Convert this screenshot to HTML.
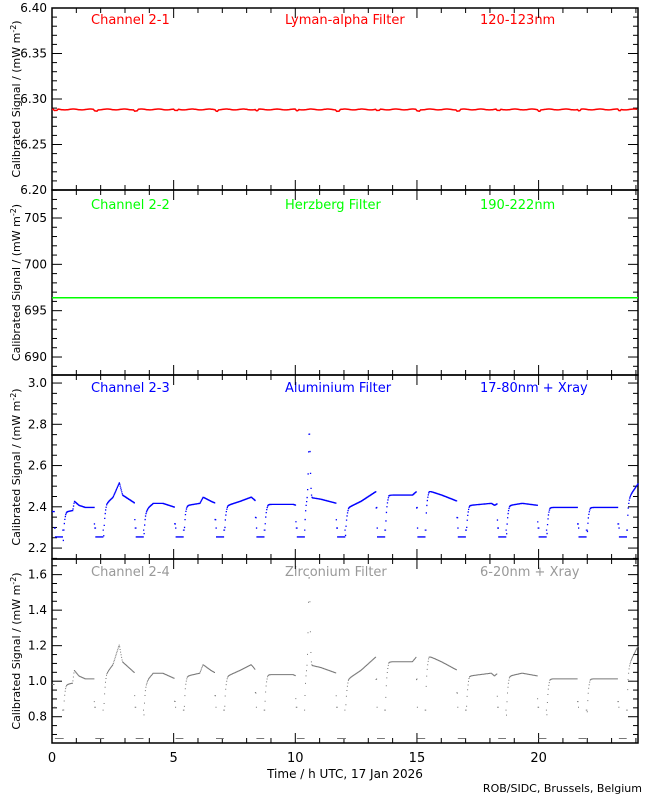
<!DOCTYPE html>
<html><head><meta charset="utf-8"><style>
body{margin:0;background:#fff;}
svg{display:block;font-family:"DejaVu Sans","Liberation Sans",sans-serif;}
</style></head><body>
<svg id="s" width="650" height="800" xmlns="http://www.w3.org/2000/svg">
<rect width="650" height="800" fill="#fff"/>
<g font-size="13">
<text x="91" y="24" fill="#ff0000">Channel 2-1</text>
<text x="285" y="24" fill="#ff0000">Lyman-alpha Filter</text>
<text x="480" y="24" fill="#ff0000">120-123nm</text>
<text x="91" y="209" fill="#00ff00">Channel 2-2</text>
<text x="285" y="209" fill="#00ff00">Herzberg Filter</text>
<text x="480" y="209" fill="#00ff00">190-222nm</text>
<text x="91" y="392" fill="#0000ff">Channel 2-3</text>
<text x="285" y="392" fill="#0000ff">Aluminium Filter</text>
<text x="480" y="392" fill="#0000ff">17-80nm + Xray</text>
<text x="91" y="576" fill="#999999">Channel 2-4</text>
<text x="285" y="576" fill="#999999">Zirconium Filter</text>
<text x="480" y="576" fill="#999999">6-20nm + Xray</text>
</g>
<g font-size="12" fill="#000" text-anchor="middle">
<text x="345" y="778">Time / h UTC, 17 Jan 2026</text>
</g>
<text x="642" y="792" font-size="11" text-anchor="end">ROB/SIDC, Brussels, Belgium</text>
<g id="axes"></g>
<g id="data"></g>
</svg>
<script>
var NS="http://www.w3.org/2000/svg";
var ax=document.getElementById('axes'),dg=document.getElementById('data');
var X0=52,X1=638,PX=24.33;
function el(t,a,p){var e=document.createElementNS(NS,t);for(var k in a)e.setAttribute(k,a[k]);(p||ax).appendChild(e);return e;}
var panels=[
{top:8,bot:190,lo:6.20,hi:6.40,maj:0.05,min:0.01,dec:2},
{top:190,bot:375,lo:688.06,hi:708.02,maj:5,min:1,dec:0},
{top:375,bot:559,lo:2.147,hi:3.039,maj:0.2,min:0.05,dec:1},
{top:559,bot:743,lo:0.652,hi:1.688,maj:0.2,min:0.05,dec:1}
];
function yv(p,v){return p.bot-(v-p.lo)/(p.hi-p.lo)*(p.bot-p.top);}
panels.forEach(function(p,i){
 el('rect',{x:X0,y:p.top,width:X1-X0,height:p.bot-p.top,fill:'none',stroke:'#000','stroke-width':1.5});
 for(var h=0;h<=24;h++){var x=X0+h*PX,L=h%5==0?10:5;
  el('line',{x1:x,x2:x,y1:p.bot,y2:p.bot-L,stroke:'#000'});
  el('line',{x1:x,x2:x,y1:p.top,y2:p.top+L,stroke:'#000'});}
 var n0=Math.ceil(p.lo/p.min-1e-6),n1=Math.floor(p.hi/p.min+1e-6);
 for(var n=n0;n<=n1;n++){var v=n*p.min,y=yv(p,v);
  var r=v/p.maj,isM=Math.abs(r-Math.round(r))<1e-6,L=isM?10:5;
  el('line',{x1:X0,x2:X0+L,y1:y,y2:y,stroke:'#000'});
  el('line',{x1:X1,x2:X1-L,y1:y,y2:y,stroke:'#000'});
  if(isM){var t=el('text',{x:47,y:y+4,'font-size':12,'text-anchor':'end'});t.textContent=v.toFixed(p.dec);}
 }
 var cy=(p.top+p.bot)/2;
 var t=el('text',{x:0,y:0,'font-size':11,'text-anchor':'middle',transform:'translate(20,'+cy+') rotate(-90)'});
 t.innerHTML='Calibrated Signal / (mW m<tspan dy="-4" font-size="8">-2</tspan><tspan dy="4">)</tspan>';
});
['0','5','10','15','20'].forEach(function(s,i){var t=el('text',{x:X0+i*5*PX,y:762,'font-size':13,'text-anchor':'middle'});t.textContent=s;});
// panel 1 line
var pts=[];for(var h=0;h<=24.08;h+=0.05){var k=(h-0.08)/1.656;var ph=k-Math.floor(k);var v=6.2885-(ph<0.08?0.0015:0)+0.0005*Math.sin(h*9);pts.push((X0+h*PX).toFixed(1)+','+yv(panels[0],v).toFixed(1));}
el('polyline',{points:pts.join(' '),fill:'none',stroke:'#ff0000','stroke-width':1.5},dg);
el('line',{x1:X0,x2:X1,y1:yv(panels[1],696.4),y2:yv(panels[1],696.4),stroke:'#00ff00','stroke-width':1.5},dg);
// panels 3/4 : per-orbit keyframes (fraction of sunlit part, value)
var orb=[
[[0,2.36],[0.1,2.38],[0.3,2.385],[0.35,2.43],[0.5,2.41],[0.7,2.40],[1,2.40]],
[[0,2.37],[0.1,2.42],[0.3,2.45],[0.5,2.52],[0.6,2.46],[0.8,2.44],[1,2.42]],
[[0,2.37],[0.15,2.40],[0.3,2.42],[0.6,2.42],[1,2.40]],
[[0,2.39],[0.1,2.41],[0.5,2.42],[0.6,2.45],[0.85,2.43],[1,2.42]],
[[0,2.38],[0.1,2.41],[0.5,2.43],[0.85,2.45],[1,2.43]],
[[0,2.39],[0.1,2.415],[0.9,2.415],[1,2.41]],
[[0,2.45],[0.1,2.45],[0.5,2.44],[1,2.42]],
[[0,2.36],[0.1,2.40],[0.5,2.43],[1,2.48]],
[[0,2.42],[0.1,2.46],[0.6,2.46],[0.85,2.46],[1,2.48]],
[[0,2.45],[0.1,2.48],[0.5,2.46],[1,2.43]],
[[0,2.37],[0.1,2.41],[0.8,2.42],[0.9,2.41],[1,2.42]],
[[0,2.38],[0.1,2.41],[0.5,2.42],[1,2.41]],
[[0,2.37],[0.1,2.40],[1,2.40]],
[[0,2.37],[0.1,2.40],[1,2.40]],
[[0,2.44],[0.5,2.55],[1,2.62]]
];
var per=1.656,d0=0.08,dw=0.36;
function interp(kf,f){for(var i=1;i<kf.length;i++){if(f<=kf[i][0]){var a=kf[i-1],b=kf[i];return a[1]+(b[1]-a[1])*(f-a[0])/(b[0]-a[0]);}}return kf[kf.length-1][1];}
function ch3(h){
 if(h<d0) return 2.38;
 var k=Math.floor((h-d0)/per),ph=(h-d0)-k*per;
 if(ph<dw){ if(ph<0.03) return 2.30; if(ph>dw-0.03) return 2.29; return 2.257;}
 var kf=orb[Math.min(k,orb.length-1)];
 var f=(ph-dw)/(per-dw);
 var v=interp(kf,f);
 var rec=ph-dw; v-=0.12*Math.exp(-rec/0.04);
 if(per-ph<0.03) v-=0.08;
 if(h>10.4&&h<10.7){v+=0.32*Math.exp(-Math.pow((h-10.55)/0.05,2));}
 return v;
}
var s3='',s4='';
for(var h=0;h<=24.07;h+=0.02){var v=ch3(h),x=(X0+h*PX).toFixed(1);
 var v4=v<2.27?0.68:1.0+(v-2.39)*1.6;
 s3+='M'+x+' '+yv(panels[2],v).toFixed(1)+'h1.3v1.3h-1.3z';
 s4+='M'+x+' '+yv(panels[3],v4).toFixed(1)+'h1v1h-1z';}
el('path',{d:s3,fill:'#0000ff'},dg);
el('path',{d:s4,fill:'#777777'},dg);
</script>
</body></html>
